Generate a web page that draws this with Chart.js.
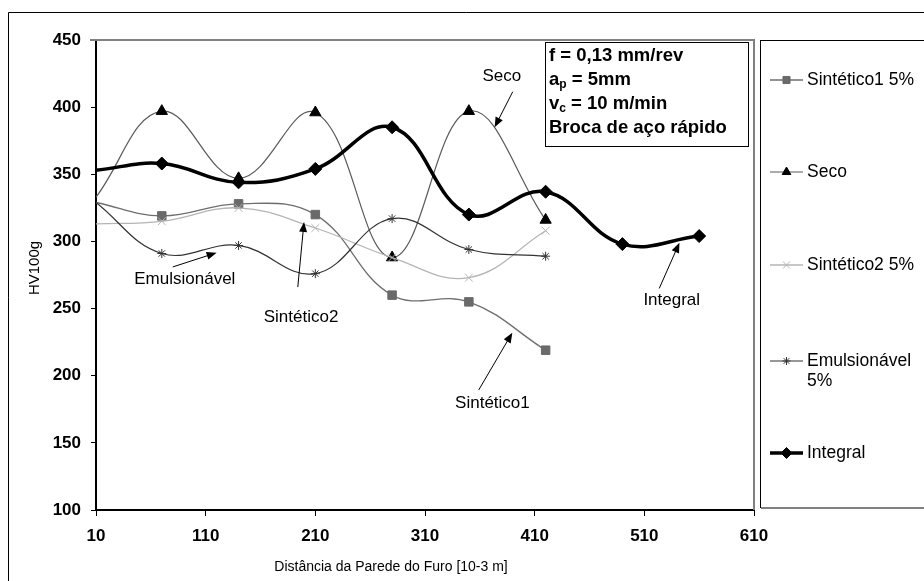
<!DOCTYPE html>
<html>
<head>
<meta charset="utf-8">
<script src="https://cdn.jsdelivr.net/npm/chart.js@4.4.1/dist/chart.umd.min.js"></script>
<style>
  html, body { margin: 0; padding: 0; background: #fff; }
  #wrap { width: 924px; height: 581px; }
</style>
</head>
<body>
<div id="wrap"><canvas id="chart" width="924" height="581"></canvas></div>
<script>
// distance from the hole wall [10-3 m]
const distances = [10, 70, 140, 210, 280, 350, 420, 490, 560];

// HV100g per series
const sintetico1 = [329, 319, 328, 320, 260, 255, 219];
const seco = [333, 397, 347, 396, 288, 397, 316];
const sintetico2 = [313, 315, 325, 310, 288, 273, 308];
const emulsionavel = [329, 291, 297, 276, 317, 294, 289];
const integral = [353, 358, 344, 354, 385, 320, 337, 298, 304];

const xTicks = [10, 110, 210, 310, 410, 510, 610];
const yTicks = [100, 150, 200, 250, 300, 350, 400, 450];

const FONT = '"Liberation Sans", Arial, sans-serif';
Chart.defaults.font.family = FONT;
Chart.defaults.color = '#000';

function toPoints(values) {
    return values.map((v, i) => ({ x: distances[i], y: v }));
}

// marker style per series (used for the plot and the legend)
const seriesStyles = [
    { label: 'Sintético1 5%', data: sintetico1, line: '#6e6e6e', fill: '#6a6a6a', stroke: '#6a6a6a', style: 'rect', r: 6, lr: 5, width: 1.3 },
    { label: 'Seco', data: seco, line: '#5a5a5a', fill: '#000', stroke: '#000', style: 'triangle', r: 6.5, lr: 5, width: 1.2 },
    { label: 'Sintético2 5%', data: sintetico2, line: '#b5b5b5', fill: '#b5b5b5', stroke: '#b5b5b5', style: 'crossRot', r: 5.5, lr: 5, width: 1.3 },
    { label: 'Emulsionável 5%', data: emulsionavel, line: '#333', fill: '#333', stroke: '#333', style: 'star', r: 4.5, lr: 4, width: 1.2 },
    { label: 'Integral', data: integral, line: '#000', fill: '#000', stroke: '#000', style: 'rectRot', r: 6.5, lr: 5.5, width: 3.5 }
];

// text call-outs with arrows, in data units
const callouts = [
    { text: 'Seco', tx: 380, ty: 422.7, from: [390, 411.5], to: [373.5, 385] },
    { text: 'Emulsionável', tx: 91, ty: 272, from: [80, 281], to: [120, 291.6] },
    { text: 'Sintético2', tx: 197, ty: 243.7, from: [194, 266], to: [199.7, 314.5] },
    { text: 'Sintético1', tx: 371.5, ty: 179.7, from: [359, 189.4], to: [389.6, 232] },
    { text: 'Integral', tx: 535, ty: 256, from: [523.6, 265], to: [542, 299] }
];

function drawArrow(ctx, x1, y1, x2, y2) {
    const a = Math.atan2(y2 - y1, x2 - x1);
    const len = 10, half = 4;
    ctx.beginPath();
    ctx.moveTo(x1, y1);
    ctx.lineTo(x2 - Math.cos(a) * len * 0.8, y2 - Math.sin(a) * len * 0.8);
    ctx.stroke();
    ctx.beginPath();
    ctx.moveTo(x2, y2);
    ctx.lineTo(x2 - Math.cos(a) * len - Math.sin(a) * half, y2 - Math.sin(a) * len + Math.cos(a) * half);
    ctx.lineTo(x2 - Math.cos(a) * len + Math.sin(a) * half, y2 - Math.sin(a) * len - Math.cos(a) * half);
    ctx.closePath();
    ctx.fill();
}

const decorations = {
    id: 'decorations',
    beforeDraw(chart) {
        const ctx = chart.ctx;
        ctx.save();
        ctx.fillStyle = '#fff';
        ctx.fillRect(0, 0, chart.width, chart.height);
        // outer frame
        ctx.strokeStyle = '#000';
        ctx.lineWidth = 1;
        ctx.beginPath();
        ctx.moveTo(8.5, 600);
        ctx.lineTo(8.5, 12.5);
        ctx.lineTo(930, 12.5);
        ctx.stroke();

        // axis titles (off-centre in the original)
        ctx.fillStyle = '#000';
        ctx.textAlign = 'center';
        ctx.textBaseline = 'middle';
        ctx.font = '14px ' + FONT;
        ctx.fillText('Distância da Parede do Furo [10-3 m]', 391, 567);
        ctx.translate(35, 268);
        ctx.rotate(-Math.PI / 2);
        ctx.font = '15px ' + FONT;
        ctx.fillText('HV100g', 0, 0);
        ctx.restore();
    },
    afterDatasetsDraw(chart) {
        const ctx = chart.ctx;
        const { left, right, top, bottom } = chart.chartArea;
        const xs = chart.scales.x, ys = chart.scales.y;
        ctx.save();

        // plot frame (top and right)
        ctx.strokeStyle = '#808080';
        ctx.lineWidth = 2;
        ctx.beginPath();
        ctx.moveTo(left - 6, top);
        ctx.lineTo(right, top);
        ctx.lineTo(right, bottom);
        ctx.stroke();

        // call-outs
        ctx.strokeStyle = '#000';
        ctx.fillStyle = '#000';
        ctx.lineWidth = 1;
        ctx.font = '17px ' + FONT;
        ctx.textAlign = 'center';
        ctx.textBaseline = 'middle';
        callouts.forEach(c => {
            ctx.fillText(c.text, xs.getPixelForValue(c.tx), ys.getPixelForValue(c.ty));
            drawArrow(ctx,
                xs.getPixelForValue(c.from[0]), ys.getPixelForValue(c.from[1]),
                xs.getPixelForValue(c.to[0]), ys.getPixelForValue(c.to[1]));
        });

        // conditions box
        ctx.fillStyle = '#fff';
        ctx.fillRect(545.5, 42.5, 203, 104);
        ctx.strokeRect(545.5, 42.5, 203, 104);
        ctx.fillStyle = '#000';
        ctx.textAlign = 'left';
        const bold = 'bold 18.5px ' + FONT;
        const small = 'bold 12px ' + FONT;
        ctx.font = bold;
        ctx.fillText('f = 0,13 mm/rev', 549, 56);
        ctx.fillText('a', 549, 80);
        let w = ctx.measureText('a').width;
        ctx.font = small;
        ctx.fillText('p', 549 + w, 85);
        let w2 = ctx.measureText('p').width;
        ctx.font = bold;
        ctx.fillText(' = 5mm', 549 + w + w2, 80);
        ctx.fillText('v', 549, 104);
        w = ctx.measureText('v').width;
        ctx.font = small;
        ctx.fillText('c', 549 + w, 109);
        w2 = ctx.measureText('c').width;
        ctx.font = bold;
        ctx.fillText(' = 10 m/min', 549 + w + w2, 104);
        ctx.fillText('Broca de aço rápido', 549, 128);

        // legend box
        ctx.strokeStyle = '#000';
        ctx.lineWidth = 1;
        ctx.strokeRect(760.5, 40.5, 200, 467);
        ctx.strokeStyle = '#808080';
        ctx.lineWidth = 2;
        ctx.beginPath();
        ctx.moveTo(761, 508);
        ctx.lineTo(930, 508);
        ctx.stroke();

        const rows = [80, 172, 265, 361, 453];
        ctx.font = '17.5px ' + FONT;
        seriesStyles.forEach((s, i) => {
            const y = rows[i];
            ctx.strokeStyle = s.line;
            ctx.lineWidth = s.width;
            ctx.beginPath();
            ctx.moveTo(770, y);
            ctx.lineTo(803, y);
            ctx.stroke();
            ctx.fillStyle = s.fill;
            ctx.strokeStyle = s.stroke;
            ctx.lineWidth = 1;
            Chart.helpers.drawPoint(ctx, { pointStyle: s.style, radius: s.lr, rotation: 0, borderWidth: 1 }, 786.5, y);
            ctx.fillStyle = '#000';
            if (s.label === 'Emulsionável 5%') {
                ctx.fillText('Emulsionável', 807, y);
                ctx.fillText('5%', 807, y + 20);
            } else {
                ctx.fillText(s.label, 807, y);
            }
        });
        ctx.restore();
    }
};

const datasets = seriesStyles.map((s, i) => ({
    label: s.label,
    data: toPoints(s.data),
    borderColor: s.line,
    borderWidth: s.width,
    backgroundColor: s.fill,
    pointBackgroundColor: s.fill,
    pointBorderColor: s.stroke,
    pointBorderWidth: 1,
    pointStyle: s.style,
    pointRadius: c => c.dataIndex === 0 ? 0 : s.r,
    showLine: true,
    tension: 0.4,
    fill: false,
    order: s.label === 'Integral' ? 0 : 5 - i
}));

new Chart(document.getElementById('chart'), {
    type: 'scatter',
    data: { datasets },
    plugins: [decorations],
    options: {
        responsive: false,
        animation: false,
        events: [],
        layout: { padding: { top: 40, right: 170, left: 0, bottom: 0 } },
        plugins: {
            legend: { display: false },
            tooltip: { enabled: false }
        },
        scales: {
            x: {
                type: 'linear',
                min: xTicks[0],
                max: xTicks[xTicks.length - 1],
                afterFit: s => { s.height = 71; },
                afterBuildTicks: s => { s.ticks = xTicks.map(v => ({ value: v })); },
                ticks: {
                    font: { size: 17, weight: 'bold' },
                    color: '#000',
                    padding: 10,
                    maxRotation: 0
                },
                grid: { display: true, drawOnChartArea: false, drawTicks: true, tickLength: 6, color: '#000' },
                border: { display: true, color: '#000', width: 2 }
            },
            y: {
                min: yTicks[0],
                max: yTicks[yTicks.length - 1],
                afterFit: s => { s.width = 96; },
                afterBuildTicks: s => { s.ticks = yTicks.map(v => ({ value: v })); },
                ticks: {
                    font: { size: 17, weight: 'bold' },
                    color: '#000',
                    padding: 10
                },
                grid: { display: true, drawOnChartArea: false, drawTicks: true, tickLength: 5, color: '#000' },
                border: { display: true, color: '#000', width: 2 }
            }
        }
    }
});
</script>
</body>
</html>
